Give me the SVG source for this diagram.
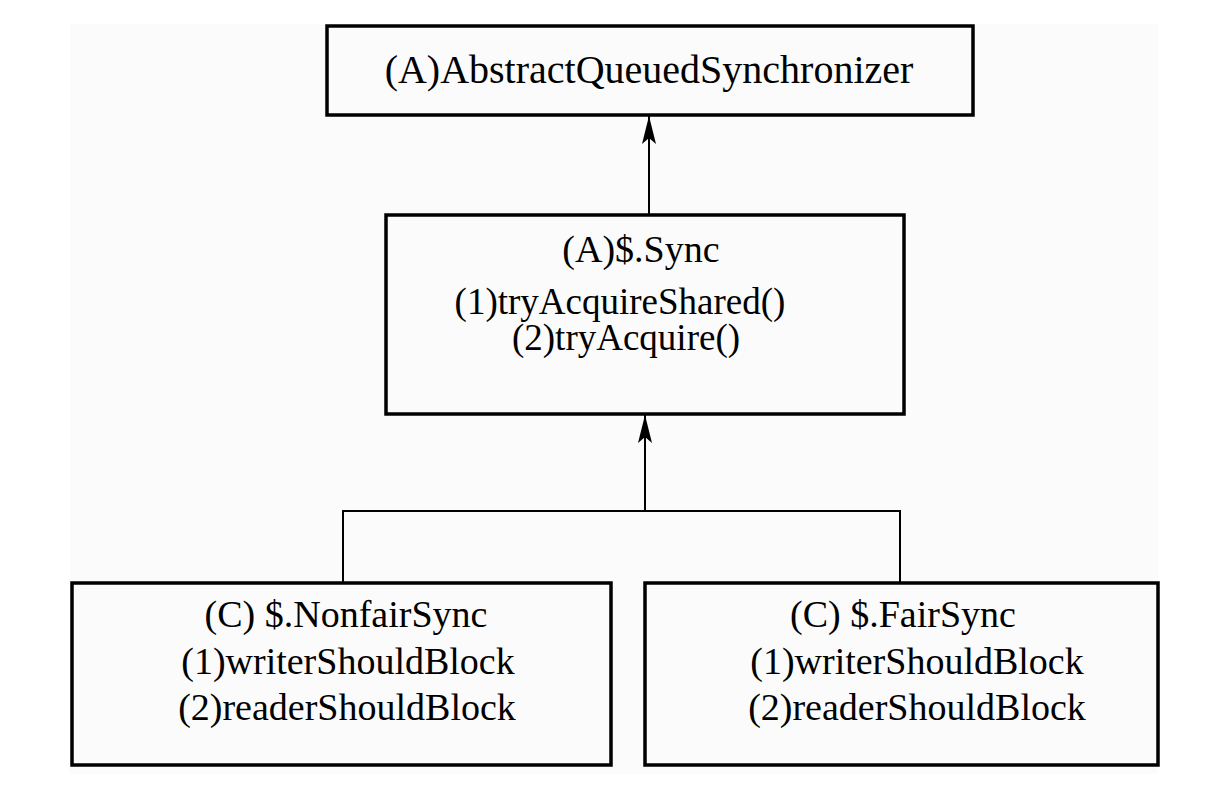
<svg xmlns="http://www.w3.org/2000/svg" width="1221" height="800" viewBox="0 0 1221 800">
<style>
.box{fill:#fbfbfb;stroke:#000;stroke-width:3.5}
.t{font-family:"Liberation Serif","Times New Roman",serif;font-size:38px;fill:#000;text-anchor:middle}
.c{fill:none;stroke:#000;stroke-width:2}
</style>
<defs>
<marker id="ah" markerUnits="userSpaceOnUse" markerWidth="30" markerHeight="16" viewBox="0 0 30 16" refX="28" refY="8" orient="auto">
<path d="M28 8 L0 1 L6 8 L0 15 Z" fill="#000"/>
</marker>
</defs>
<rect x="0" y="0" width="1221" height="800" fill="#fff"/>
<rect x="70" y="24" width="1088" height="750" fill="#fbfbfb"/>
<g id="connectors">
<line class="c" x1="649" y1="214" x2="649" y2="116" marker-end="url(#ah)"/>
<line class="c" x1="645" y1="511" x2="645" y2="415" marker-end="url(#ah)"/>
<polyline class="c" points="343,582 343,511 900,511 900,582"/>
</g>
<g id="aqs">
<rect class="box" x="327" y="26" width="646" height="89"/>
<text class="t" x="649" y="83" style="font-size:40px">(A)AbstractQueuedSynchronizer</text>
</g>
<g id="sync">
<rect class="box" x="386" y="215" width="518" height="199"/>
<text class="t" x="641" y="262">(A)$.Sync</text>
<text class="t" x="620" y="314" style="font-size:37px">(1)tryAcquireShared()</text>
<text class="t" x="626" y="350" style="font-size:37px">(2)tryAcquire()</text>
</g>
<g id="nonfair">
<rect class="box" x="72" y="583" width="539" height="182"/>
<text class="t" x="346" y="627">(C) $.NonfairSync</text>
<text class="t" x="348" y="674">(1)writerShouldBlock</text>
<text class="t" x="347" y="720">(2)readerShouldBlock</text>
</g>
<g id="fair">
<rect class="box" x="645" y="583" width="513" height="182"/>
<text class="t" x="903" y="627">(C) $.FairSync</text>
<text class="t" x="917" y="674">(1)writerShouldBlock</text>
<text class="t" x="917" y="720">(2)readerShouldBlock</text>
</g>
</svg>
